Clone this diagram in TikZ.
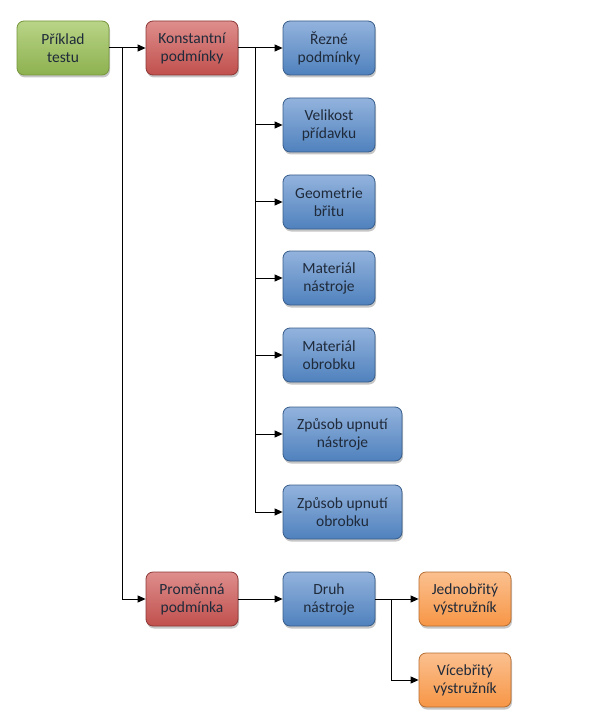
\documentclass[tikz,border=0pt]{standalone}
\usepackage{fontspec}
\setmainfont{Carlito}
\usetikzlibrary{arrows.meta,shadows}
\definecolor{gTop}{HTML}{B9D487}
\definecolor{gBot}{HTML}{8DB14F}
\definecolor{gLine}{HTML}{76963C}
\definecolor{rTop}{HTML}{DE8E8C}
\definecolor{rBot}{HTML}{C0504D}
\definecolor{rLine}{HTML}{8C3836}
\definecolor{bTop}{HTML}{93B3DD}
\definecolor{bBot}{HTML}{4F81BD}
\definecolor{bLine}{HTML}{385D8A}
\definecolor{oTop}{HTML}{FBC08F}
\definecolor{oBot}{HTML}{F79646}
\definecolor{oLine}{HTML}{B66D31}
\definecolor{txt}{HTML}{1F2A3A}
\tikzset{
  box/.style={rounded corners=7pt, minimum width=92pt, minimum height=54pt,
    align=center, font=\fontsize{15.5}{18}\selectfont, text=txt,
    line width=0.8pt,
    drop shadow={opacity=0.45, shadow xshift=1pt, shadow yshift=-2.5pt}},
  gbox/.style={box, draw=gLine, top color=gTop, bottom color=gBot},
  rbox/.style={box, draw=rLine, top color=rTop, bottom color=rBot},
  bbox/.style={box, draw=bLine, top color=bTop, bottom color=bBot},
  obox/.style={box, draw=oLine, top color=oTop, bottom color=oBot},
  arr/.style={line width=1pt, -{Triangle[length=8pt,width=7pt]}}
}
\begin{document}
\begin{tikzpicture}[x=1pt,y=-1pt]
\path[use as bounding box] (0,0) rectangle (596,719);
\node[gbox] (p) at (63,48) {Příklad\\testu};
\node[rbox] (k) at (192,48) {Konstantní\\podmínky};
\node[bbox] (r) at (329,48) {Řezné\\podmínky};
\node[bbox] (v) at (329,125) {Velikost\\přídavku};
\node[bbox] (g) at (329,202) {Geometrie\\břitu};
\node[bbox] (mn) at (329,278) {Materiál\\nástroje};
\node[bbox] (mo) at (329,355) {Materiál\\obrobku};
\node[bbox, minimum width=119pt] (zn) at (342.5,434) {Způsob upnutí\\nástroje};
\node[bbox, minimum width=119pt] (zo) at (342.5,512) {Způsob upnutí\\obrobku};
\node[rbox] (pm) at (192,599) {Proměnná\\podmínka};
\node[bbox] (d) at (329,599) {Druh\\nástroje};
\node[obox] (j) at (465,599) {Jednobřitý\\výstružník};
\node[obox] (vb) at (465,680) {Vícebřitý\\výstružník};
\coordinate (b1) at (122,48);
\coordinate (b2) at (255,48);
\coordinate (b3) at (391,599);
\draw[arr] (p.east) -- (k.west);
\draw[arr] (b1) |- (pm.west);
\draw[arr] (k.east) -- (r.west);
\foreach \n in {v,g,mn,mo,zn,zo} \draw[arr] (b2) |- (\n.west);
\draw[arr] (pm.east) -- (d.west);
\draw[arr] (d.east) -- (j.west);
\draw[arr] (b3) |- (vb.west);
\end{tikzpicture}
\end{document}
